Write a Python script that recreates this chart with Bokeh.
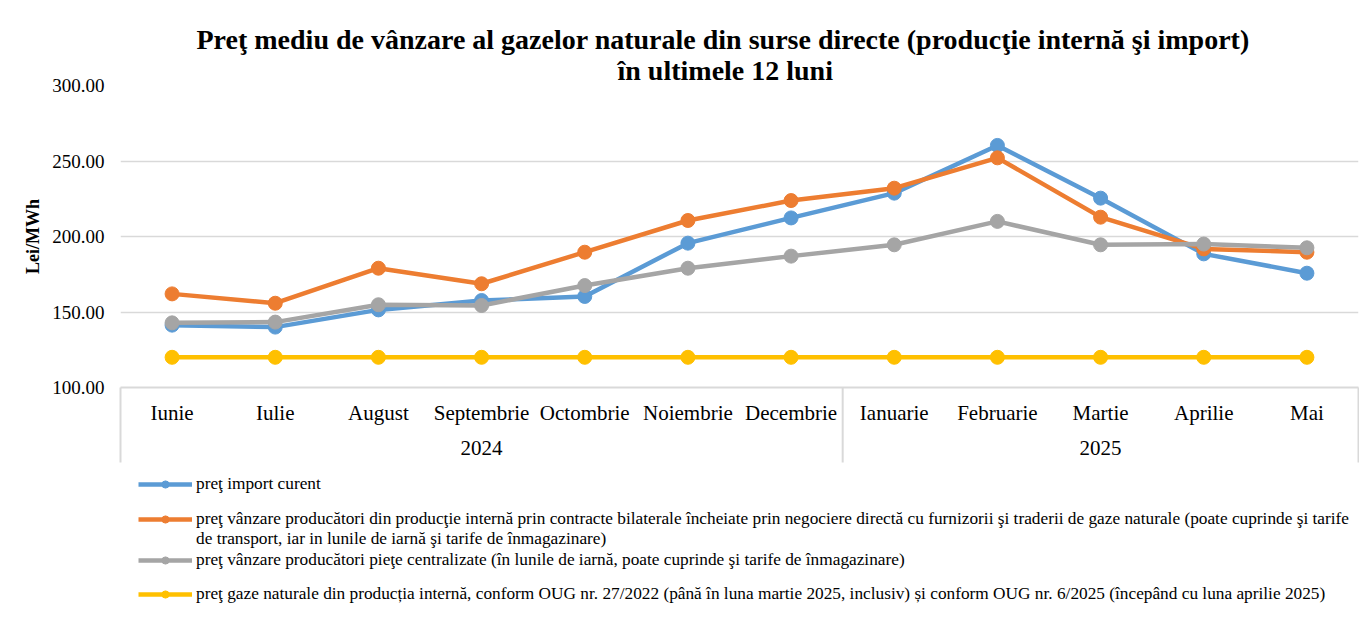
from bokeh.plotting import figure
from bokeh.layouts import column
from bokeh.models import (FactorRange, Range1d, ColumnDataSource, FixedTicker,
                          NumeralTickFormatter, Legend, LegendItem, Title)
from bokeh.embed import file_html
from bokeh.resources import INLINE

# ---------------- data ----------------
MONTHS = ["Iunie", "Iulie", "August", "Septembrie", "Octombrie", "Noiembrie",
          "Decembrie", "Ianuarie", "Februarie", "Martie", "Aprilie", "Mai"]
YEARS = ["2024"] * 7 + ["2025"] * 5

IMPORT_CURENT = [141.3, 140.0, 151.4, 157.6, 160.3, 195.6, 212.3, 228.7, 260.3, 225.4, 188.5, 175.7]
BILATERALE = [162.0, 155.8, 179.0, 168.7, 189.6, 210.6, 223.8, 232.0, 252.1, 212.8, 191.8, 189.6]
PIETE_CENTRALIZATE = [142.8, 143.3, 154.8, 154.3, 167.5, 179.0, 187.0, 194.5, 210.0, 194.5, 195.0, 192.5]
OUG = [120.0] * 12

Y_TICKS = [100, 150, 200, 250, 300]

LABELS = [
    ["preţ import curent"],
    ["preţ vânzare producători din producţie internă prin contracte bilaterale încheiate prin negociere directă cu furnizorii şi traderii de gaze naturale (poate cuprinde şi tarife",
     "de transport, iar in lunile de iarnă şi tarife de înmagazinare)"],
    ["preţ vânzare producători pieţe centralizate (în lunile de iarnă, poate cuprinde şi tarife de înmagazinare)"],
    ["preţ gaze naturale din producția internă, conform OUG nr. 27/2022 (până în luna martie 2025, inclusiv) și conform OUG nr. 6/2025 (începând cu luna aprilie 2025)"],
]
COLORS = ["#5B9BD5", "#ED7D31", "#A5A5A5", "#FFC000"]

TITLE_LINES = ["Preţ mediu de vânzare al gazelor naturale din surse directe (producţie internă şi import)",
               "în ultimele 12 luni"]

FONT = "Liberation Serif"
Y_MIN, Y_MAX = 100, 300
FRAME_H = 302
AXIS_BOX_PX = 75

# ---------------- main chart ----------------
factors = list(zip(YEARS, MONTHS))
x_range = FactorRange(factors=factors, range_padding=0, factor_padding=0,
                      group_padding=0, subgroup_padding=0)

W = 1359
H1 = 463
H2 = 157
TOP = 85
p = figure(width=W, height=H1, x_range=x_range, y_range=Range1d(Y_MIN, Y_MAX),
           output_backend="svg", toolbar_location=None,
           min_border_left=120, min_border_right=1, min_border_top=TOP,
           min_border_bottom=H1 - TOP - FRAME_H)

# title in two lines (second line added first: it sits nearest the frame)
for txt, off, so in [(TITLE_LINES[1], 497, -1), (TITLE_LINES[0], 76, -3)]:
    p.add_layout(Title(text=txt, align="left", offset=off, standoff=so,
                       text_font=FONT, text_font_size="28px", text_font_style="bold",
                       text_color="#000000"), "above")

p.outline_line_color = None
p.background_fill_color = "white"
p.border_fill_color = "white"

p.xgrid.grid_line_color = None
p.ygrid.grid_line_color = "#d9d9d9"
p.ygrid.grid_line_width = 1.5

# y axis
p.yaxis.ticker = FixedTicker(ticks=Y_TICKS)
p.yaxis.formatter = NumeralTickFormatter(format="0.00")
p.yaxis.axis_line_color = None
p.yaxis.major_tick_line_color = None
p.yaxis.minor_tick_line_color = None
p.yaxis.major_tick_out = 0
p.yaxis.major_label_standoff = 16
p.yaxis.major_label_text_font = FONT
p.yaxis.major_label_text_font_size = "19px"
p.yaxis.major_label_text_color = "#000000"
p.yaxis.axis_label = "Lei/MWh"
p.yaxis.axis_label_text_font = FONT
p.yaxis.axis_label_text_font_size = "18px"
p.yaxis.axis_label_text_font_style = "bold"
p.yaxis.axis_label_text_color = "#000000"
p.yaxis.axis_label_standoff = 6

# x axis
xa = p.xaxis[0]
xa.axis_line_color = "#d9d9d9"
xa.axis_line_width = 2
xa.major_tick_line_color = None
xa.minor_tick_line_color = None
xa.major_tick_out = 0
xa.major_label_standoff = 13
xa.major_label_text_font = FONT
xa.major_label_text_font_size = "21px"
xa.major_label_text_color = "#000000"
xa.group_text_font = FONT
xa.group_text_font_size = "21px"
xa.group_text_font_style = "normal"
xa.group_text_color = "#000000"
xa.separator_line_alpha = 0

# category box lines (left edge, year boundary, right edge)
split = YEARS.index(YEARS[-1])
y_bottom = Y_MIN - AXIS_BOX_PX * (Y_MAX - Y_MIN) / FRAME_H
box = ColumnDataSource(dict(
    x=[(YEARS[0], MONTHS[0], -0.5), (YEARS[split - 1], MONTHS[split - 1], 0.5),
       (YEARS[-1], MONTHS[-1], 0.5)],
    y0=[Y_MIN] * 3, y1=[y_bottom] * 3))
p.segment(x0="x", y0="y0", x1="x", y1="y1", source=box, line_color="#d9d9d9",
          line_width=2, level="overlay")

# series
series = [IMPORT_CURENT, BILATERALE, PIETE_CENTRALIZATE, OUG]
sources = []
for vals, col in zip(series, COLORS):
    src = ColumnDataSource(dict(x=factors, y=vals))
    sources.append(src)
    p.line("x", "y", source=src, line_color=col, line_width=4.5)
    p.scatter("x", "y", source=src, size=14, fill_color=col, line_color=col)

# ---------------- legend strip below ----------------
# same series drawn against a y range that keeps them out of view; they only feed the legend
lg_fig = figure(width=W, height=H2, x_range=x_range, y_range=Range1d(0, 1),
                output_backend="svg", toolbar_location=None,
                x_axis_type=None, y_axis_type=None, min_border=0,
                min_border_left=120, min_border_right=1)
lg_fig.grid.visible = False
lg_fig.outline_line_color = None
lg_fig.background_fill_color = "white"
lg_fig.border_fill_color = "white"

blank = lg_fig.line(x=[], y=[], line_alpha=0)

ROW = 18
LEG_CENTER = [485, 522, 561, 595]   # page y of each entry's first row
PAGE_BOTTOM = H1 + H2
for src, col, labs, cy in zip(sources, COLORS, LABELS, LEG_CENTER):
    rl = lg_fig.line("x", "y", source=src, line_color=col, line_width=4.5)
    rs = lg_fig.scatter("x", "y", source=src, size=14, fill_color=col, line_color=col)
    li = [LegendItem(label=labs[0], renderers=[rl, rs])]
    for extra in labs[1:]:
        li.append(LegendItem(label=extra, renderers=[blank]))
    h = ROW * len(labs)
    vy = PAGE_BOTTOM - h - (cy - ROW / 2)
    lg = Legend(items=li, location=(18, vy), padding=0, margin=0, spacing=0,
                border_line_color=None, background_fill_alpha=0,
                glyph_width=54, glyph_height=ROW, label_height=ROW, label_standoff=4,
                label_text_font=FONT, label_text_font_size="17.3px",
                label_text_color="#000000")
    lg_fig.add_layout(lg, "center")

layout = column(p, lg_fig, spacing=0)
open("out.html", "w").write(file_html(layout, INLINE))
